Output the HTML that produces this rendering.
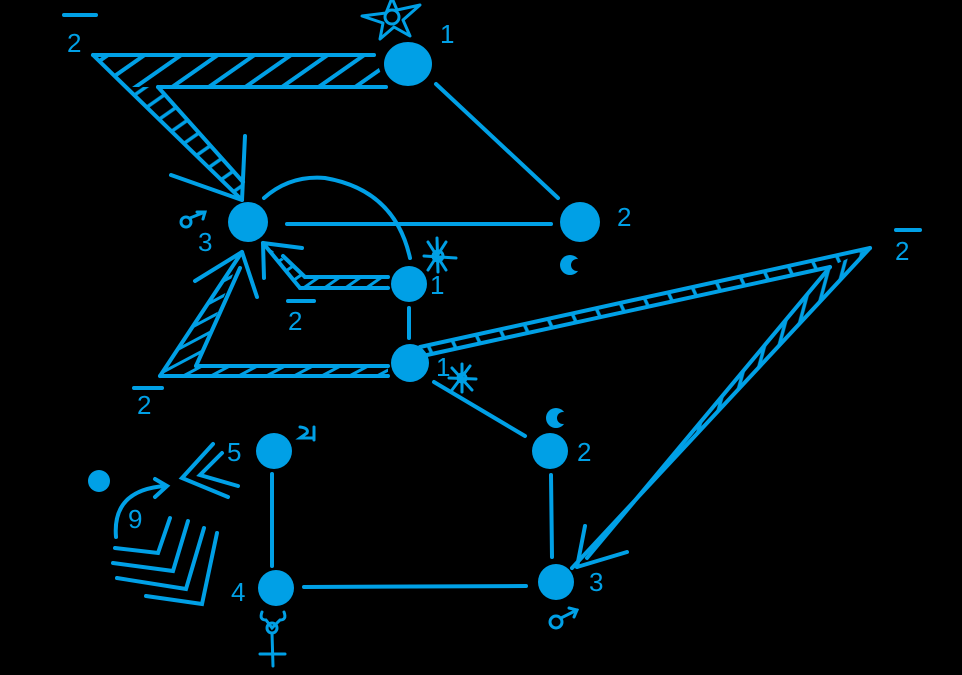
<!DOCTYPE html>
<html><head><meta charset="utf-8"><style>
html,body{margin:0;padding:0;background:#000;}
svg{display:block}
text{font-family:"Liberation Sans",sans-serif;fill:#00a0e6;font-size:26px}
</style></head><body>
<svg width="962" height="675" viewBox="0 0 962 675" xmlns="http://www.w3.org/2000/svg">
<defs>
<pattern id="p1" width="21" height="21" patternUnits="userSpaceOnUse" patternTransform="rotate(55)"><line x1="2" y1="0" x2="2" y2="21" stroke="#00a0e6" stroke-width="4"/></pattern>
<pattern id="p1d" width="17" height="17" patternUnits="userSpaceOnUse" patternTransform="rotate(55)"><line x1="2" y1="0" x2="2" y2="17" stroke="#00a0e6" stroke-width="3.5"/></pattern>
<pattern id="p2" width="12" height="12" patternUnits="userSpaceOnUse" patternTransform="rotate(55)"><line x1="2" y1="0" x2="2" y2="12" stroke="#00a0e6" stroke-width="3"/></pattern>
<pattern id="p3" width="13" height="13" patternUnits="userSpaceOnUse" patternTransform="rotate(62)"><line x1="2" y1="0" x2="2" y2="13" stroke="#00a0e6" stroke-width="3"/></pattern>
<pattern id="p4" width="24" height="24" patternUnits="userSpaceOnUse" patternTransform="rotate(-25)"><line x1="2" y1="0" x2="2" y2="24" stroke="#00a0e6" stroke-width="3.5"/></pattern>
<pattern id="p5" width="14" height="14" patternUnits="userSpaceOnUse" patternTransform="rotate(15)"><line x1="2" y1="0" x2="2" y2="14" stroke="#00a0e6" stroke-width="3.5"/></pattern>
</defs>
<g stroke="#00a0e6" stroke-width="4" fill="none" stroke-linecap="round">
<!-- band 1 -->
<polygon points="93,55 374,55 386,87 158,87 126,87" fill="url(#p1)" stroke="none"/>
<polygon points="126,87 158,87 243,182 242,200" fill="url(#p1d)" stroke="none"/>
<line x1="93" y1="55" x2="374" y2="55"/><line x1="158" y1="87" x2="386" y2="87"/>
<line x1="93" y1="55" x2="242" y2="200"/><line x1="158" y1="87" x2="243" y2="182"/>
<line x1="245" y1="136" x2="242" y2="200"/><line x1="171" y1="175" x2="242" y2="200"/>
<!-- band 2 -->
<polygon points="263,243 305,277 388,277 388,288 300,288" fill="url(#p2)" stroke="none"/>
<line x1="305" y1="277" x2="388" y2="277"/><line x1="300" y1="288" x2="388" y2="288"/>
<line x1="263" y1="243" x2="300" y2="288"/><line x1="283" y1="256" x2="305" y2="277"/>
<line x1="263" y1="243" x2="264" y2="278"/><line x1="263" y1="243" x2="302" y2="248"/>
<!-- band 3 -->
<polygon points="160,376 242,252 196,366 388,367 388,376" fill="url(#p3)" stroke="none"/>
<line x1="160" y1="376" x2="242" y2="252"/><line x1="196" y1="366" x2="240" y2="268"/>
<line x1="196" y1="366" x2="388" y2="366"/><line x1="160" y1="376" x2="388" y2="376"/>
<line x1="242" y1="252" x2="195" y2="281"/><line x1="242" y1="252" x2="257" y2="297"/>
<!-- band 4 -->
<polygon points="420,347 870,248 830,267 427,355" fill="url(#p4)" stroke="none"/>
<polygon points="870,248 572,568 587,558 830,267" fill="url(#p5)" stroke="none"/>
<line x1="420" y1="347" x2="870" y2="248"/><line x1="427" y1="355" x2="830" y2="267"/>
<line x1="870" y1="248" x2="572" y2="568"/><line x1="830" y1="267" x2="587" y2="558"/>
<line x1="577" y1="567" x2="585" y2="526"/><line x1="577" y1="567" x2="627" y2="552"/>
<!-- edges -->
<line x1="436" y1="84" x2="558" y2="198"/>
<line x1="287" y1="224" x2="551" y2="224"/>
<path d="M264,198 Q290,175 325,178 Q395,190 410,258"/>
<line x1="409" y1="308" x2="409" y2="338"/>
<line x1="434" y1="382" x2="525" y2="436"/>
<line x1="551" y1="475" x2="552" y2="557"/>
<line x1="272" y1="474" x2="272" y2="566"/>
<line x1="304" y1="587" x2="526" y2="586"/>
<!-- bottom-left -->
<polyline points="213,444 182,478 228,497"/><polyline points="222,453 200,475 238,486"/>
<path d="M116,537 Q112,490 165,486"/><polyline points="155,479 167,486 155,497"/>
<polyline points="115,548 158,553 170,518"/><polyline points="113,563 173,571 188,521"/>
<polyline points="117,578 186,589 204,528"/><polyline points="146,596 202,604 217,533"/>
<!-- overbars -->
<line x1="64" y1="15" x2="96" y2="15"/><line x1="288" y1="301" x2="314" y2="301"/>
<line x1="134" y1="388" x2="162" y2="388"/><line x1="896" y1="230" x2="920" y2="230"/>
<!-- glyphs -->
<polygon points="392,-2 397,10 420,5 403,20 410,36 394,27 380,39 383,23 362,16 386,13" stroke-width="3" stroke-linejoin="round"/>
<circle cx="392" cy="17" r="7" stroke-width="3"/>
<g stroke-width="3"><line x1="428" y1="242" x2="446" y2="270"/><line x1="446" y1="242" x2="428" y2="270"/><line x1="424" y1="256" x2="456" y2="258"/><line x1="437" y1="238" x2="438" y2="272"/><circle cx="438" cy="256" r="5"/></g>
<g stroke-width="3"><line x1="452" y1="368" x2="472" y2="390"/><line x1="470" y1="366" x2="452" y2="390"/><line x1="449" y1="378" x2="476" y2="379"/><line x1="462" y1="364" x2="462" y2="392"/><circle cx="462" cy="378" r="4"/></g>
<g stroke-width="3"><circle cx="186" cy="222" r="5"/><line x1="190" y1="218" x2="205" y2="212"/><polyline points="197,212 205,212 203,219"/></g>
<g stroke-width="3"><circle cx="556" cy="622" r="6"/><line x1="561" y1="618" x2="577" y2="610"/><polyline points="569,608 577,610 574,617"/></g>
<path d="M300,427 Q309,428 307,433 L300,438 L314,438 M314,427 L314,440" stroke-width="3"/>
<g stroke-width="3"><path d="M262,612 Q259,620 266,620 L272,628 L280,620 Q287,620 284,612"/><circle cx="272" cy="628" r="5"/><line x1="272" y1="633" x2="273" y2="666"/><line x1="260" y1="654" x2="285" y2="654"/></g>
</g>
<g fill="#00a0e6">
<ellipse cx="408" cy="64" rx="24" ry="22"/>
<circle cx="580" cy="222" r="20"/><circle cx="248" cy="222" r="20"/>
<circle cx="409" cy="284" r="18"/><circle cx="410" cy="363" r="19"/>
<circle cx="550" cy="451" r="18"/><circle cx="274" cy="451" r="18"/>
<circle cx="276" cy="588" r="18"/><circle cx="556" cy="582" r="18"/>
<circle cx="99" cy="481" r="11"/>
<circle cx="570" cy="265" r="10"/><circle cx="556" cy="418" r="10"/>
<text x="67" y="52">2</text><text x="440" y="43">1</text><text x="617" y="226">2</text>
<text x="198" y="251">3</text><text x="430" y="294">1</text><text x="288" y="330">2</text>
<text x="137" y="414">2</text><text x="436" y="376">1</text><text x="895" y="260">2</text>
<text x="227" y="461">5</text><text x="577" y="461">2</text><text x="128" y="528">9</text>
<text x="231" y="601">4</text><text x="589" y="591">3</text>
</g>
<g fill="#000"><circle cx="577" cy="265" r="6"/><circle cx="563" cy="418" r="6"/></g>
</svg>
</body></html>
